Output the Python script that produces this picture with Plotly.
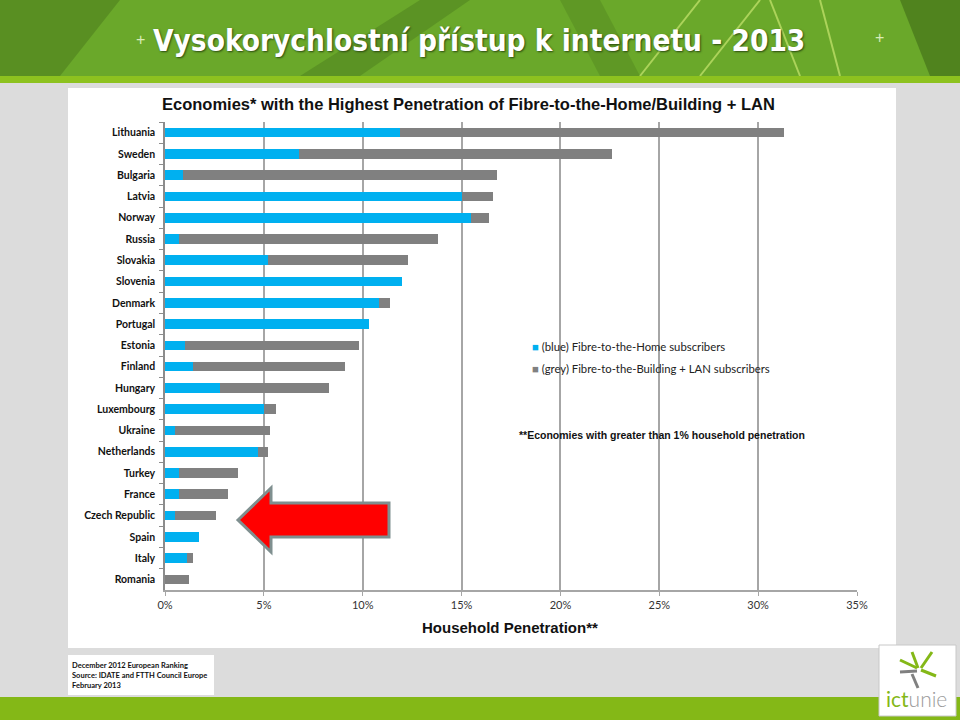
import plotly.graph_objects as go

countries = ["Lithuania", "Sweden", "Bulgaria", "Latvia", "Norway", "Russia", "Slovakia",
             "Slovenia", "Denmark", "Portugal", "Estonia", "Finland", "Hungary", "Luxembourg",
             "Ukraine", "Netherlands", "Turkey", "France", "Czech Republic", "Spain", "Italy",
             "Romania"]
ftth = [11.9, 6.8, 0.9, 15.0, 15.5, 0.7, 5.2, 12.0, 10.8, 10.3, 1.0, 1.4, 2.8, 5.0,
        0.5, 4.7, 0.7, 0.7, 0.5, 1.7, 1.1, 0.0]
total = [31.3, 22.6, 16.8, 16.6, 16.4, 13.8, 12.3, 12.0, 11.4, 10.3, 9.8, 9.1, 8.3, 5.6,
         5.3, 5.2, 3.7, 3.2, 2.6, 1.7, 1.4, 1.2]
fttb_lan = [round(t - f, 2) for t, f in zip(total, ftth)]
x_ticks = [0, 5, 10, 15, 20, 25, 30, 35]
x_labels = [f"{v}%" for v in x_ticks]
legend_names = ["(blue) Fibre-to-the-Home subscribers", "(grey) Fibre-to-the-Building + LAN subscribers"]
colors = ["#00b0f0", "#808080"]

W, H = 960, 720
L, R, T, B = 165, 857, 122, 590


def X(px):
    return (px - L) / (R - L)


def Y(py):
    return (B - py) / (B - T)


fig = go.Figure()
fig.add_trace(go.Bar(y=countries, x=ftth, orientation="h", name=legend_names[0],
                     marker=dict(color=colors[0], line=dict(width=0))))
fig.add_trace(go.Bar(y=countries, x=fttb_lan, orientation="h", name=legend_names[1],
                     marker=dict(color=colors[1], line=dict(width=0))))

shapes = []
shapes.append(dict(type="rect", xref="paper", yref="paper", x0=X(0), x1=X(960), y0=Y(0), y1=Y(76),
                   fillcolor="#6aa82a", line=dict(width=0), layer="below"))
for pts, col, op in [
    ([(0, 0), (120, 0), (60, 76), (0, 76)], "#4f7f1e", 0.6),
    ([(300, 76), (360, 76), (470, 0), (420, 0)], "#4a7a1c", 0.45),
    ([(560, 0), (600, 76), (640, 76), (600, 0)], "#4a7a1c", 0.35),
    ([(900, 0), (960, 0), (960, 76), (930, 76)], "#3f6a18", 0.6),
]:
    path = "M " + " L ".join(f"{X(a)},{Y(b)}" for a, b in pts) + " Z"
    shapes.append(dict(type="path", xref="paper", yref="paper", path=path, fillcolor=col,
                       line=dict(width=0), opacity=op, layer="below"))
for (xa, ya, xb, yb) in [(640, 76, 700, 0), (800, 76, 770, 0), (840, 76, 820, 0), (700, 76, 760, 0)]:
    shapes.append(dict(type="line", xref="paper", yref="paper", x0=X(xa), y0=Y(ya), x1=X(xb), y1=Y(yb),
                       line=dict(color="#d8f07a", width=2), opacity=0.6, layer="below"))
shapes.append(dict(type="rect", xref="paper", yref="paper", x0=X(0), x1=X(960), y0=Y(76), y1=Y(83),
                   fillcolor="#8dc21f", line=dict(width=0), layer="below"))
shapes.append(dict(type="rect", xref="paper", yref="paper", x0=X(0), x1=X(960), y0=Y(697), y1=Y(720),
                   fillcolor="#84b817", line=dict(width=0), layer="below"))
shapes.append(dict(type="rect", xref="paper", yref="paper", x0=X(68), x1=X(896), y0=Y(88), y1=Y(648),
                   fillcolor="white", line=dict(width=0), layer="below"))
shapes.append(dict(type="rect", xref="paper", yref="paper", x0=X(68), x1=X(214), y0=Y(655), y1=Y(695),
                   fillcolor="white", line=dict(width=0), layer="below"))
shapes.append(dict(type="rect", xref="paper", yref="paper", x0=X(879), x1=X(956), y0=Y(645), y1=Y(716),
                   fillcolor="white", line=dict(color="#c8c8c8", width=1), layer="above"))
for (xa, ya, xb, yb, c) in [(912, 652, 918, 668, "#84b817"), (900, 660, 917, 668, "#84b817"),
                            (932, 652, 921, 668, "#84b817"), (921, 670, 936, 676, "#84b817"),
                            (912, 674, 918, 688, "#808080"), (900, 672, 917, 671, "#808080")]:
    shapes.append(dict(type="line", xref="paper", yref="paper", x0=X(xa), y0=Y(ya), x1=X(xb), y1=Y(yb),
                       line=dict(color=c, width=3), layer="above"))
arrow = [(238, 520), (271, 488), (271, 503), (389, 503), (389, 537), (271, 537), (271, 552)]
path = "M " + " L ".join(f"{X(a)},{Y(b)}" for a, b in arrow) + " Z"
shapes.append(dict(type="path", xref="paper", yref="paper", path=path, fillcolor="#ff0000",
                   line=dict(color="#7f8f8f", width=3), layer="above"))

annotations = [
    dict(text="<b>Vysokorychlostní přístup k internetu - 2013</b>", x=X(479), y=Y(41), xref="paper",
         yref="paper", showarrow=False,
         font=dict(family="DejaVu Sans Condensed, Liberation Sans Narrow, Liberation Sans", size=29.5,
                   color="white", shadow="1px 1px 2px #2a4a10"),
         xanchor="center", yanchor="middle"),
    dict(text="+", x=X(140), y=Y(40), xref="paper", yref="paper", showarrow=False,
         font=dict(family="Liberation Sans", size=16, color="#d9ecb8"), xanchor="center", yanchor="middle"),
    dict(text="+", x=X(880), y=Y(38), xref="paper", yref="paper", showarrow=False,
         font=dict(family="Liberation Sans", size=16, color="#d9ecb8"), xanchor="center", yanchor="middle"),
    dict(text="<b>Economies* with the Highest Penetration of Fibre-to-the-Home/Building + LAN</b>",
         x=X(468), y=Y(104), xref="paper", yref="paper", showarrow=False,
         font=dict(family="Liberation Sans, Arial", size=16.5, color="#111111"), xanchor="center", yanchor="middle"),
    dict(text="<b>**Economies with greater than 1% household penetration</b>", x=X(517), y=Y(435),
         xref="paper", yref="paper", showarrow=False,
         font=dict(family="Liberation Sans, Arial", size=10.5, color="#111111"), xanchor="left", yanchor="middle"),
    dict(text="<b>Household Penetration**</b>", x=X(510), y=Y(627), xref="paper", yref="paper",
         showarrow=False, font=dict(family="Liberation Sans, Arial", size=15, color="#111111"),
         xanchor="center", yanchor="middle"),
    dict(text="<b>December 2012 European Ranking<br>Source: IDATE and FTTH Council Europe<br>February 2013</b>",
         x=X(70), y=Y(675), xref="paper", yref="paper", showarrow=False, align="left",
         font=dict(family="Lato, Open Sans", size=7.5, color="#111111"), xanchor="left", yanchor="middle"),
    dict(text="<span style='color:#84b817'>ict</span><span style='color:#9a9a9a;font-weight:300'>unie</span>",
         x=X(917), y=Y(698), xref="paper", yref="paper", showarrow=False,
         font=dict(family="Lato, Open Sans", size=21), xanchor="center", yanchor="middle"),
]
for i, (nm, c) in enumerate(zip(legend_names, colors)):
    annotations.append(dict(text=f"<span style='color:{c}'>■</span> {nm}", x=X(530), y=Y(346 + 22 * i),
                            xref="paper", yref="paper", showarrow=False, xanchor="left", yanchor="middle",
                            font=dict(family="Lato, Open Sans", size=11.3, color="#222222")))

fig.update_layout(
    width=W, height=H,
    margin=dict(l=L, r=W - R, t=T, b=H - B, pad=0),
    paper_bgcolor="#dcdcdc", plot_bgcolor="white",
    barmode="stack", bargap=0.55,
    showlegend=False,
    shapes=shapes, annotations=annotations,
    xaxis=dict(range=[0, 35], tickvals=x_ticks, ticktext=x_labels, showgrid=True,
               gridcolor="#a6a6a6", gridwidth=1.5, showline=True, linecolor="#a6a6a6", linewidth=1.5,
               ticks="outside", ticklen=4, tickcolor="#a6a6a6", zeroline=False,
               tickfont=dict(family="Lato, Open Sans", size=11, color="#333333")),
    yaxis=dict(categoryorder="array", categoryarray=countries, autorange="reversed",
               showline=True, linecolor="#8c8c8c", linewidth=1.5, ticks="outside", ticklen=4,
               tickcolor="#8c8c8c", tickson="boundaries", showgrid=False, ticklabelstandoff=6,
               tickfont=dict(family="Lato, Open Sans", size=10.5, color="#111111", weight="bold")),
)

fig.write_html("out.html", config={"displayModeBar": False},
               post_script="document.body.style.margin='0px';document.body.style.overflow='hidden';")
